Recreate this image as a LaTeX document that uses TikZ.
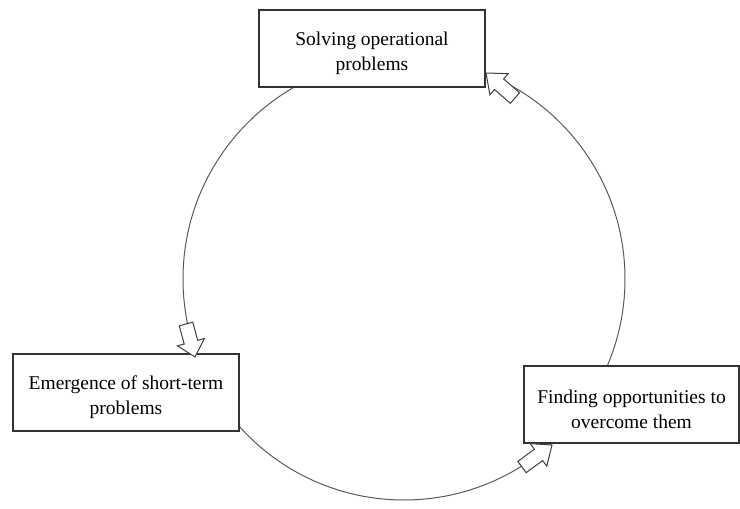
\documentclass[tikz,border=0pt]{standalone}
\usepackage{fontspec}
\setmainfont{Liberation Serif}
\usetikzlibrary{calc}
\tikzset{
  box/.style={draw=black!80, line width=1.2pt, fill=white, minimum width=226pt, minimum height=77pt, inner sep=0pt},
  txt/.style={align=center, inner sep=0pt, font=\fontsize{19.5}{25}\selectfont, text=black, yshift=-5pt},
  cyc/.style={draw=black!65, line width=1pt},
  barrow/.style={draw=black!75, line width=1pt, fill=white, line join=miter}
}
\newcommand\blockarr[2]{%
  \coordinate (hb) at ($(#1)!0.55!(#2)$);
  \draw[barrow] ($(#1)!7pt!90:(#2)$) -- ($(hb)!7pt!90:(#2)$) -- ($(hb)!14pt!90:(#2)$) -- (#2)
    -- ($(hb)!14pt!-90:(#2)$) -- ($(hb)!7pt!-90:(#2)$) -- ($(#1)!7pt!-90:(#2)$) -- cycle;
}
\begin{document}
\begin{tikzpicture}[x=1pt,y=-1pt]
\useasboundingbox (0,0) rectangle (740,509);
\coordinate (c) at (404,279);
\draw[cyc] (c) circle[radius=221pt];
\node[box, label={[txt]center:Solving operational\\problems}] (top) at (372,48.5) {};
\node[box, label={[txt]center:Emergence of short-term\\problems}] (left) at (126,392.5) {};
\node[box, minimum width=215pt, label={[txt]center:Finding opportunities to\\overcome them}] (right) at (631.5,404.5) {};
\coordinate (t1) at (515,98);  \coordinate (p1) at (486,73);
\coordinate (t2) at (186,324); \coordinate (p2) at (195,357);
\coordinate (t3) at (522,467); \coordinate (p3) at (552,445);
\blockarr{t1}{p1}
\blockarr{t2}{p2}
\blockarr{t3}{p3}
\end{tikzpicture}
\end{document}
